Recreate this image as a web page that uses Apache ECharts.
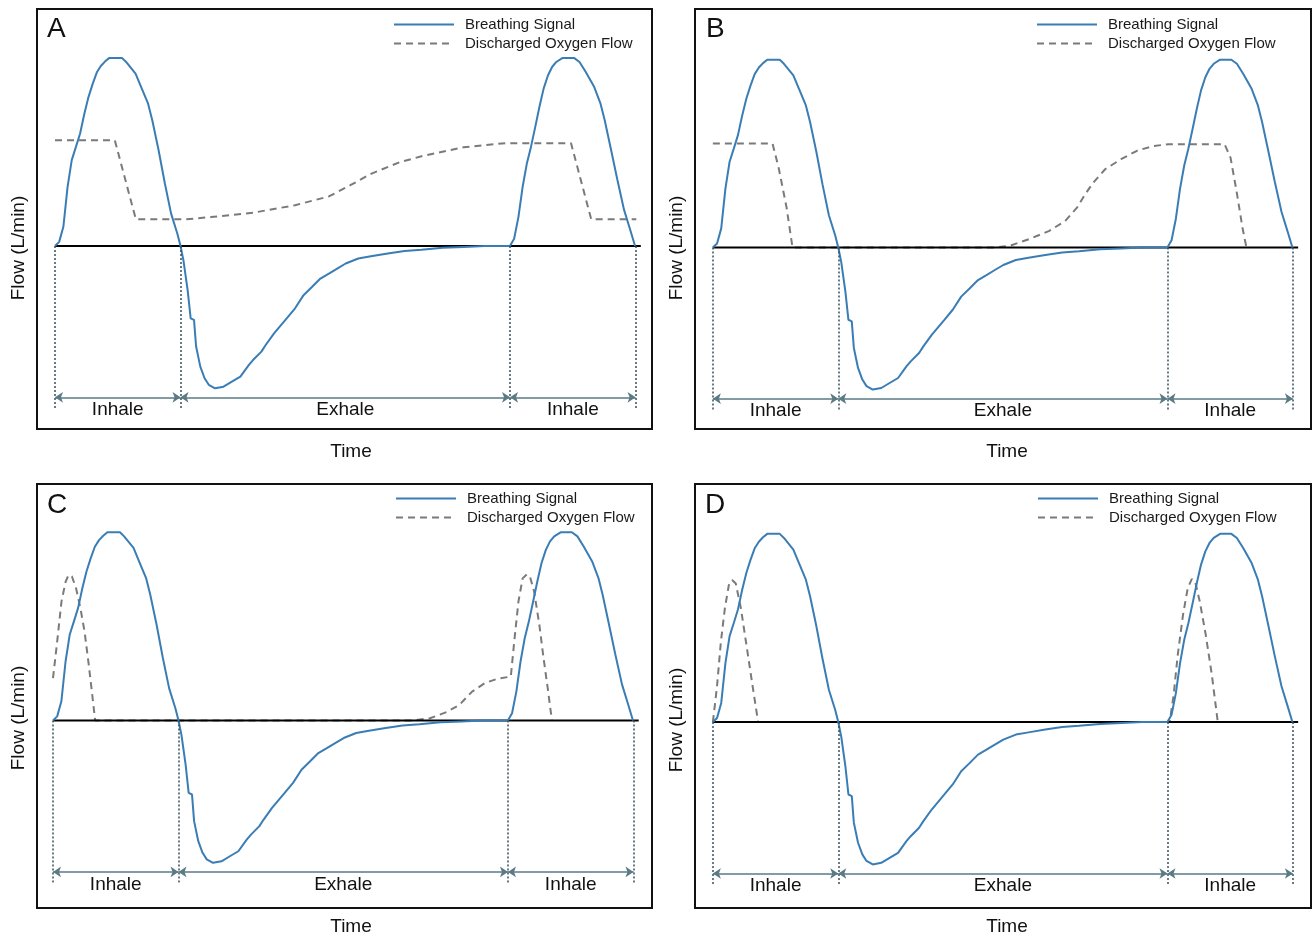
<!DOCTYPE html>
<html>
<head>
<meta charset="utf-8">
<title>Breathing signal vs discharged oxygen flow</title>
<script src="https://cdn.jsdelivr.net/npm/echarts@6/dist/echarts.min.js"></script>
<style>
  html, body { margin: 0; padding: 0; background: #fff; }
  #main { width: 1316px; height: 938px; }
</style>
</head>
<body>
<div id="main"></div>
<script>
// breathing signal, same trace in all four panels (time in s, flow in L/min)
const breathTime = [0, 0.04, 0.08, 0.12, 0.16, 0.20, 0.24, 0.28, 0.32, 0.36, 0.40, 0.44, 0.48, 0.52, 0.64, 0.68, 0.77, 0.83, 0.89, 0.93, 0.99, 1.05, 1.11, 1.17, 1.20,
  1.228, 1.268, 1.297, 1.329, 1.349, 1.389, 1.430, 1.470, 1.530, 1.611, 1.691, 1.772, 1.852, 1.893, 1.973, 2.014, 2.094, 2.215, 2.295, 2.376, 2.456, 2.537, 2.618, 2.698, 2.779, 2.899, 3.020, 3.181, 3.342, 3.503, 3.705, 3.906, 4.108, 4.349,
  4.389, 4.430, 4.470, 4.510, 4.550, 4.591, 4.631, 4.671, 4.712, 4.752, 4.792, 4.853, 4.961, 5.014, 5.074, 5.155, 5.215, 5.255, 5.316, 5.376, 5.44, 5.50, 5.545]
const breathFlow = [0, 1.3, 6.1, 18.8, 27.4, 31.6, 35.9, 42.1, 47.5, 51.7, 55.4, 57.5, 58.9, 60, 60, 58.7, 55, 50.2, 45.4, 40.1, 30.6, 20.0, 10.3, 3.9, 0,
  -4.6, -14.1, -23.1, -23.6, -32.1, -38.5, -42.2, -44.3, -45.4, -44.9, -43.3, -41.7, -38.0, -36.4, -33.7, -31.6, -27.9, -23.1, -19.9, -15.7, -13.1, -10.4, -8.8, -7.2, -5.6, -4.0, -3.3, -2.4, -1.6, -1.2, -0.6, -0.3, 0, 0,
  2.3, 9.2, 18.8, 26.2, 31.6, 38.0, 44.4, 50.2, 54.4, 57.1, 58.7, 60, 60, 58.7, 55.5, 50.7, 45.4, 40.1, 30.6, 21.1, 11.5, 5.0, 0]

// discharged oxygen flow, one trace per panel
const oxyTimeA = [0, 0.572, 0.773, 1.248, 1.490, 1.893, 2.295, 2.618, 2.819, 3.020, 3.302, 3.503, 3.906, 4.309, 4.933, 5.126, 5.557]
const oxyFlowA = [33.7, 33.7, 8.5, 8.5, 9.2, 10.6, 13.0, 15.8, 19.3, 23.0, 26.8, 28.6, 31.5, 32.8, 32.8, 8.5, 8.5]

const oxyTimeB = [0, 0.571, 0.629, 0.705, 0.762, 2.686, 2.838, 3.029, 3.219, 3.372, 3.486, 3.562, 3.639, 3.753, 3.905, 4.058, 4.210, 4.362, 4.896, 4.953, 5.010, 5.067, 5.105]
const oxyFlowB = [33.2, 33.2, 25.5, 12.8, 0, 0, 0.5, 2.7, 5.3, 8.5, 12.8, 17.0, 20.7, 25.0, 28.2, 30.9, 32.4, 33.0, 33.0, 28.7, 18.1, 6.4, 0]

const oxyTimeC = [0, 0.040, 0.081, 0.121, 0.149, 0.181, 0.221, 0.262, 0.302, 0.342, 0.375, 0.403, 3.443, 3.604, 3.765, 3.886, 4.007, 4.128, 4.249, 4.377, 4.41, 4.45, 4.49, 4.53, 4.56, 4.60, 4.65, 4.69, 4.73, 4.77]
const oxyFlowC = [13.5, 25.2, 37.9, 44.3, 46.4, 45.9, 42.1, 35.8, 28.3, 17.7, 8.2, 0, 0, 0.7, 2.7, 5.0, 9.2, 11.9, 13.3, 14.0, 25.2, 37.9, 45.3, 46.6, 45.9, 41.1, 30.5, 19.9, 10.3, 0]

const oxyTimeD = [0, 0.038, 0.077, 0.115, 0.153, 0.184, 0.219, 0.268, 0.326, 0.383, 0.433, 4.371, 4.409, 4.448, 4.498, 4.543, 4.582, 4.613, 4.659, 4.716, 4.774, 4.831]
const oxyFlowD = [0, 10.8, 25.7, 36.3, 43.7, 45.3, 44.2, 36.3, 23.5, 10.8, 0, 0, 8.7, 21.4, 34.1, 42.6, 45.6, 45.0, 38.4, 27.8, 15.1, 0]

// phases
const phaseEdges = [0, 1.2, 4.35, 5.55]
const phaseNames = ['Inhale', 'Exhale', 'Inhale']
const panelLetters = ['A', 'B', 'C', 'D']
const legendNames = ['Breathing Signal', 'Discharged Oxygen Flow']

const oxyTimes = [oxyTimeA, oxyTimeB, oxyTimeC, oxyTimeD]
const oxyFlows = [oxyFlowA, oxyFlowB, oxyFlowC, oxyFlowD]

// layout of the four boxes (px) and axis ranges
const panels = [
  { left: 37, top: 9, width: 615, height: 420, xMin: -0.172, xMax: 5.707, yMin: -58.4, yMax: 75.6, legendLeft: 393, legendTop: 17, letterX: 47, letterY: 30, flowX: 19, flowY: 248, timeX: 351, timeY: 452 },
  { left: 695, top: 9, width: 616, height: 420, xMin: -0.171, xMax: 5.723, yMin: -58.0, yMax: 76.2, legendLeft: 1036, legendTop: 17, letterX: 706, letterY: 30, flowX: 677, flowY: 248, timeX: 1007, timeY: 452 },
  { left: 37, top: 484, width: 615, height: 424, xMin: -0.153, xMax: 5.727, yMin: -59.8, yMax: 75.4, legendLeft: 395, legendTop: 491, letterX: 47, letterY: 506, flowX: 19, flowY: 718, timeX: 351, timeY: 927 },
  { left: 695, top: 484, width: 616, height: 424, xMin: -0.171, xMax: 5.723, yMin: -59.3, yMax: 75.9, legendLeft: 1037, legendTop: 491, letterX: 705, letterY: 506, flowX: 677, flowY: 720, timeX: 1007, timeY: 927 }
]

const font = '"Liberation Sans", Arial, Helvetica, sans-serif'
const blue = '#3a7db5'
const grey = '#7a7a7a'
const arrowLevel = -48.3
const edgeBottom = -51.8

const zip = (xs, ys) => xs.map((x, k) => [x, ys[k]])

const grid = []
const xAxis = []
const yAxis = []
const legend = []
const series = []
const graphic = []

panels.forEach((p, i) => {
  grid.push({
    left: p.left, top: p.top, width: p.width, height: p.height,
    show: true, borderColor: '#111', borderWidth: 2, backgroundColor: '#fff',
    outerBoundsMode: 'none'
  })
  xAxis.push({ type: 'value', gridIndex: i, min: p.xMin, max: p.xMax, show: false })
  yAxis.push({ type: 'value', gridIndex: i, min: p.yMin, max: p.yMax, show: false })

  legend.push({
    orient: 'vertical',
    left: p.legendLeft,
    top: p.legendTop,
    padding: 0,
    itemWidth: 60,
    itemHeight: 14,
    itemGap: 4,
    selectedMode: false,
    itemStyle: { opacity: 0 },
    textStyle: { fontSize: 15, lineHeight: 14, color: '#1a1a1a', fontFamily: font, padding: [0, 0, 0, 6] },
    data: legendNames
  })

  series.push({
    name: 'Discharged Oxygen Flow',
    type: 'line',
    xAxisIndex: i, yAxisIndex: i,
    data: zip(oxyTimes[i], oxyFlows[i]),
    symbol: 'none',
    silent: true,
    animation: false,
    z: 2,
    itemStyle: { color: grey },
    lineStyle: { color: grey, width: 2, type: [7, 5] }
  })

  // zero line with the phase boundaries
  series.push({
    name: 'zero',
    type: 'line',
    xAxisIndex: i, yAxisIndex: i,
    data: [[phaseEdges[0], 0], [5.6, 0]],
    symbol: 'none',
    silent: true,
    animation: false,
    z: 3,
    lineStyle: { color: '#000', width: 2 },
    markLine: {
      silent: true,
      animation: false,
      symbol: 'none',
      label: { show: false },
      lineStyle: { color: '#34505b', width: 1.5, type: [2, 2] },
      data: phaseEdges.map(t => [{ coord: [t, 0] }, { coord: [t, edgeBottom] }])
    }
  })

  // arrows Inhale / Exhale
  series.push({
    name: 'phases',
    type: 'line',
    xAxisIndex: i, yAxisIndex: i,
    data: [],
    silent: true,
    animation: false,
    z: 3,
    markLine: {
      silent: true,
      animation: false,
      symbol: ['arrow', 'arrow'],
      symbolSize: 8,
      lineStyle: { color: '#5a7a84', width: 1.5, type: 'solid' },
      label: {
        show: true,
        position: 'insideMiddleBottom',
        formatter: '{b}',
        distance: 3,
        fontSize: 19,
        color: '#111',
        fontFamily: font
      },
      data: phaseNames.map((name, k) => [
        { name: name, coord: [phaseEdges[k], arrowLevel] },
        { coord: [phaseEdges[k + 1], arrowLevel] }
      ])
    }
  })

  series.push({
    name: 'Breathing Signal',
    type: 'line',
    xAxisIndex: i, yAxisIndex: i,
    data: zip(breathTime, breathFlow),
    symbol: 'none',
    silent: true,
    animation: false,
    z: 4,
    itemStyle: { color: blue },
    lineStyle: { color: blue, width: 2 }
  })

  graphic.push({
    type: 'text', left: p.letterX, top: p.letterY - 15,
    style: { text: panelLetters[i], font: '28px ' + font, fill: '#111' }
  })
  graphic.push({
    type: 'text', x: p.flowX, y: p.flowY, rotation: Math.PI / 2,
    style: { text: 'Flow (L/min)', font: '19px ' + font, fill: '#111', align: 'center', verticalAlign: 'middle' }
  })
  graphic.push({
    type: 'text', x: p.timeX, y: p.timeY,
    style: { text: 'Time', font: '19px ' + font, fill: '#111', align: 'center', verticalAlign: 'middle' }
  })
})

const chart = echarts.init(document.getElementById('main'))
chart.setOption({
  backgroundColor: '#fff',
  animation: false,
  grid: grid,
  xAxis: xAxis,
  yAxis: yAxis,
  legend: legend,
  series: series,
  graphic: graphic
})
</script>
</body>
</html>
